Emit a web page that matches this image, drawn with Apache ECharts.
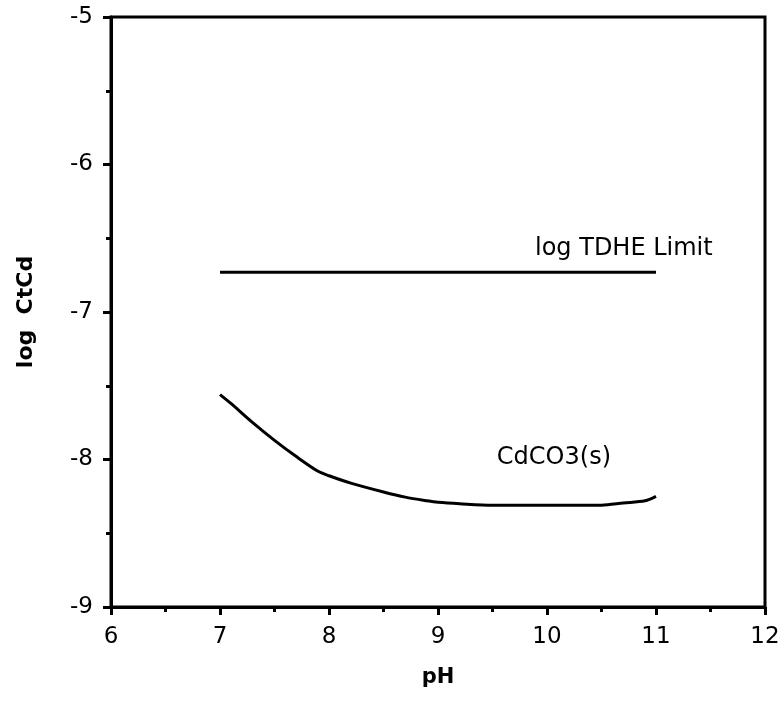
<!DOCTYPE html>
<html><head><meta charset="utf-8">
<script src="https://cdn.jsdelivr.net/npm/echarts@6/dist/echarts.min.js"></script>
<style>html,body{margin:0;padding:0;background:#fff}#c{width:784px;height:701px}</style>
</head><body><div id="c"></div>
<script>
const pH = [7.0, 7.1, 7.3, 7.5, 7.7, 7.9, 8.0, 8.2, 8.5, 8.7, 8.9, 9.0, 9.2, 9.5, 10.0, 10.5, 10.7, 10.9, 11.0];
const cdco3 = [-7.56, -7.62, -7.75, -7.87, -7.98, -8.08, -8.11, -8.16, -8.22, -8.255, -8.28, -8.29, -8.30, -8.31, -8.31, -8.31, -8.295, -8.28, -8.25];
const limitX = [7, 11];
const limitY = [-6.73, -6.73];
const labelLimit = {text: 'log TDHE Limit', x: 9.89, y: -6.57};
const labelCd = {text: 'CdCO3(s)', x: 9.54, y: -7.99};

const font = '"DejaVu Sans", sans-serif';
const chart = echarts.init(document.getElementById('c'));
chart.setOption({
  animation: false,
  grid: {left: 111, right: 19, top: 17, bottom: 94, show: true, borderColor: '#000', borderWidth: 3, backgroundColor: 'transparent'},
  xAxis: {
    type: 'value', min: 6, max: 12, interval: 1,
    name: 'pH', nameLocation: 'middle', nameGap: 60,
    nameTextStyle: {fontFamily: font, fontSize: 21, fontWeight: 'bold', color: '#000'},
    axisLine: {lineStyle: {color: '#000', width: 3}},
    axisTick: {inside: false, length: 8, lineStyle: {color: '#000', width: 3}},
    minorTick: {show: true, splitNumber: 2, length: 5, lineStyle: {color: '#000', width: 3}},
    axisLabel: {fontFamily: font, fontSize: 23, color: '#000', margin: 19},
    splitLine: {show: false}
  },
  yAxis: {
    type: 'value', min: -9, max: -5, interval: 1,
    name: 'log  CtCd', nameLocation: 'middle', nameGap: 74,
    nameTextStyle: {fontFamily: font, fontSize: 22, fontWeight: 'bold', color: '#000'},
    axisLine: {lineStyle: {color: '#000', width: 3}},
    axisTick: {inside: false, length: 8, lineStyle: {color: '#000', width: 3}},
    minorTick: {show: true, splitNumber: 2, length: 5, lineStyle: {color: '#000', width: 3}},
    axisLabel: {fontFamily: font, fontSize: 23, color: '#000', margin: 18},
    splitLine: {show: false}
  },
  series: [
    {
      type: 'line', data: pH.map((x, i) => [x, cdco3[i]]), showSymbol: false,
      lineStyle: {color: '#000', width: 3}, smooth: 0.3,
      markPoint: {
        symbol: 'circle', symbolSize: 0,
        label: {show: true, position: 'right', distance: 0, fontFamily: font, fontSize: 24, color: '#000', formatter: p => p.name},
        data: [
          {name: labelLimit.text, coord: [labelLimit.x, labelLimit.y]},
          {name: labelCd.text, coord: [labelCd.x, labelCd.y]}
        ]
      }
    },
    {
      type: 'line', data: limitX.map((x, i) => [x, limitY[i]]), showSymbol: false,
      lineStyle: {color: '#000', width: 3}
    }
  ]
});
</script></body></html>
